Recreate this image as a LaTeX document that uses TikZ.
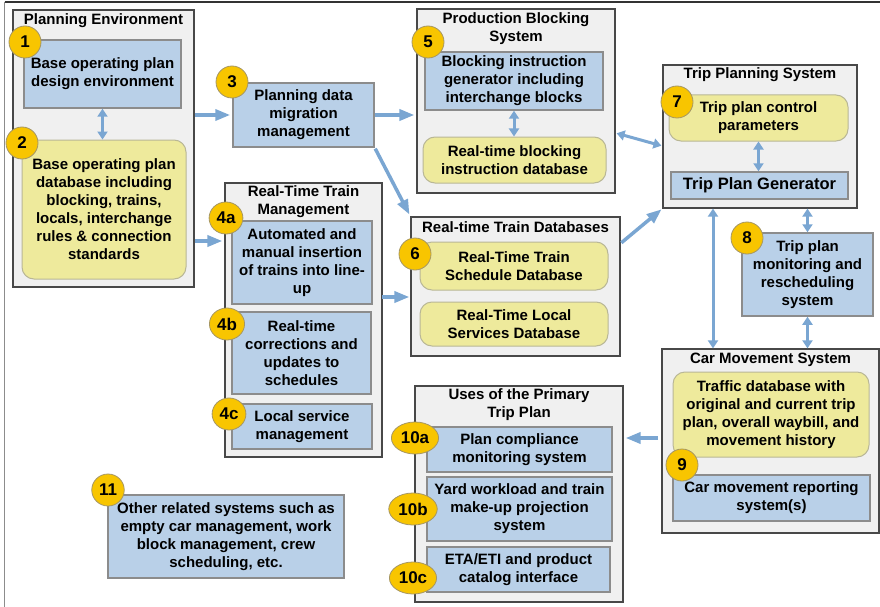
\documentclass[tikz,border=0pt]{standalone}
\usepackage{fontspec}
\setmainfont{Liberation Sans}
\usetikzlibrary{arrows.meta,shapes.geometric}

\definecolor{arrowblue}{RGB}{122,166,210}
\definecolor{panelfill}{RGB}{240,240,240}
\definecolor{paneldraw}{RGB}{72,72,72}
\definecolor{bluefill}{RGB}{185,208,232}
\definecolor{bluedraw}{RGB}{140,140,140}
\definecolor{yellowfill}{RGB}{238,234,156}
\definecolor{yellowdraw}{RGB}{185,183,150}
\definecolor{badgefill}{RGB}{248,197,0}
\definecolor{badgedraw}{RGB}{165,150,100}

\tikzset{
  txt/.style={font=\bfseries\fontsize{15}{18}\selectfont, align=center, inner sep=0pt},
  panel/.style={draw=paneldraw, fill=panelfill, line width=1.2pt, inner sep=0pt},
  paneltitle/.style={txt},
  bluebox/.style={txt, draw=bluedraw, fill=bluefill, line width=1.5pt},
  yellowbox/.style={txt, draw=yellowdraw, fill=yellowfill, line width=1pt, rounded corners=12pt},
  badge/.style={ellipse, draw=badgedraw, fill=badgefill, line width=0.8pt,
    minimum width=32pt, minimum height=32pt, inner xsep=2.5pt, inner ysep=1pt,
    font=\bfseries\fontsize{17}{17}\selectfont},
  arr/.style={draw=arrowblue, line width=3.5pt, -{Triangle[length=15pt,width=11pt]}},
  darr/.style={draw=arrowblue, line width=3pt,
    {Triangle[length=8pt,width=10pt]}-{Triangle[length=8pt,width=10pt]}},
}

\begin{document}
\begin{tikzpicture}[x=1pt,y=-1pt]
\useasboundingbox (0,0) rectangle (880,607);

% page frame
\draw[line width=1.5pt, draw=black!45] (4.5,2) -- (4.5,607);
\draw[line width=1.2pt, draw=black!80] (4.5,2) -- (880,2);

% ---------- Planning Environment ----------
\node[panel, minimum width=181pt, minimum height=277pt] (pe) at (103.5,148.5) {};
\node[paneltitle] (pe-title) at (103.5,21) {Planning Environment};
\node[bluebox, minimum width=157pt, minimum height=68pt] (b1) at (102.5,74)
  {Base operating plan\\design environment};
\node[yellowbox, minimum width=164pt, minimum height=139pt] (b2) at (104,209.5)
  {Base operating plan\\database including\\blocking, trains,\\locals, interchange\\rules \& connection\\standards};

% ---------- Planning data migration ----------
\node[bluebox, minimum width=141pt, minimum height=64pt] (b3) at (303.5,115)
  {Planning data\\migration\\management};

% ---------- Production Blocking System ----------
\node[panel, minimum width=198pt, minimum height=184pt] (pbs) at (516,101) {};
\node[paneltitle] (pbs-title) at (516,29) {Production Blocking\\System};
\node[bluebox, minimum width=178pt, minimum height=58pt] (b5) at (514,81)
  {Blocking instruction\\generator including\\interchange blocks};
\node[yellowbox, minimum width=183pt, minimum height=46pt] (y5) at (514.5,160)
  {Real-time blocking\\instruction database};

% ---------- Trip Planning System ----------
\node[panel, minimum width=194pt, minimum height=143pt] (tps) at (760,136.5) {};
\node[paneltitle] (tps-title) at (760,75) {Trip Planning System};
\node[yellowbox, minimum width=179pt, minimum height=46pt] (b7) at (758.5,118)
  {Trip plan control\\parameters};
\node[bluebox, minimum width=177pt, minimum height=27pt,
      font=\bfseries\fontsize{16.5}{18}\selectfont] (tpg) at (759.5,185.5)
  {Trip Plan Generator};

% ---------- Trip plan monitoring ----------
\node[bluebox, minimum width=131pt, minimum height=83pt] (b8) at (807.5,274.5)
  {Trip plan\\monitoring and\\rescheduling\\system};

% ---------- Car Movement System ----------
\node[panel, minimum width=217pt, minimum height=184pt] (cms) at (770.5,441) {};
\node[paneltitle] (cms-title) at (770.5,360) {Car Movement System};
\node[yellowbox, minimum width=196pt, minimum height=85pt] (y9) at (771,414.5)
  {Traffic database with\\original and current trip\\plan, overall waybill, and\\movement history};
\node[bluebox, minimum width=197pt, minimum height=46pt] (b9) at (771.5,498)
  {Car movement reporting\\system(s)};

% ---------- Uses of the Primary Trip Plan ----------
\node[panel, minimum width=208pt, minimum height=216pt] (uses) at (519,494) {};
\node[paneltitle] (uses-title) at (519,404.5) {Uses of the Primary\\Trip Plan};
\node[bluebox, minimum width=185pt, minimum height=45pt] (b10a) at (519.5,449.5)
  {Plan compliance\\monitoring system};
\node[bluebox, minimum width=185pt, minimum height=64pt] (b10b) at (519.5,509)
  {Yard workload and train\\make-up projection\\system};
\node[bluebox, minimum width=183pt, minimum height=45pt] (b10c) at (518.5,569.5)
  {ETA/ETI and product\\catalog interface};

% ---------- Real-Time Train Management ----------
\node[panel, minimum width=157pt, minimum height=274pt] (rttm) at (303.5,320) {};
\node[paneltitle] (rttm-title) at (303.5,202) {Real-Time Train\\Management};
\node[bluebox, minimum width=140pt, minimum height=83pt] (b4a) at (302,262.5)
  {Automated and\\manual insertion\\of trains into line-\\up};
\node[bluebox, minimum width=139pt, minimum height=82pt] (b4b) at (301.5,353)
  {Real-time\\corrections and\\updates to\\schedules};
\node[bluebox, minimum width=140pt, minimum height=45pt] (b4c) at (302,426.5)
  {Local service\\management};

% ---------- Real-time Train Databases ----------
\node[panel, minimum width=209pt, minimum height=139pt] (rtd) at (515.5,286.5) {};
\node[paneltitle] (rtd-title) at (515.5,227) {Real-time Train Databases};
\node[yellowbox, minimum width=188pt, minimum height=48pt] (y6a) at (514,266)
  {Real-Time Train\\Schedule Database};
\node[yellowbox, minimum width=188pt, minimum height=44pt] (y6b) at (514,324)
  {Real-Time Local\\Services Database};

% ---------- Other related systems ----------
\node[bluebox, minimum width=236pt, minimum height=83pt] (b11) at (226,536.5)
  {Other related systems such as\\empty car management, work\\block management, crew\\scheduling, etc.};

% ---------- connectors ----------
\coordinate (pe-out) at (195,241);
\coordinate (rttm-out) at (382,297);
\coordinate (cms-out) at (662,438);

\draw[darr] (b1.south) -- (b1.south |- b2.north);
\draw[arr, shorten >=2pt] (pe.east |- b3.west) -- (b3.west);
\draw[arr, shorten >=2pt] (b3.east) -- (pbs.west |- b3.east);
\draw[arr, shorten <=1pt, shorten >=2pt] (b3.south east) -- (rtd.north west);
\draw[arr, shorten >=2pt] (pe-out) -- (rttm.west |- pe-out);
\draw[arr, shorten >=1pt] (rttm-out) -- (rtd.west |- rttm-out);
\draw[darr] (b5.south) -- (b5.south |- y5.north);
\draw[darr, shorten <=1pt, shorten >=1pt] ([yshift=-32pt]pbs.east) -- ([yshift=-9.5pt]tps.west);
\draw[arr, shorten <=1pt, shorten >=1pt] ([yshift=-27pt]rtd.north east) -- (tps.south west);
\draw[darr] (b7.south) -- (b7.south |- tpg.north);
\draw[darr] (b8.north |- tps.south) -- (b8.north);
\draw[darr] (b8.south) -- (b8.south |- cms.north);
\draw[darr] ([xshift=-47pt]tps.south) -- ([xshift=-47pt]tps.south |- cms.north);
\draw[arr, shorten <=4pt, shorten >=2pt] (cms-out) -- (uses.east |- cms-out);

% ---------- number badges ----------
\node[badge] (n1) at (25,42) {1};
\node[badge] (n2) at (22,143) {2};
\node[badge] (n3) at (232,82) {3};
\node[badge] (n4a) at (226,218) {4a};
\node[badge] (n4b) at (227,324) {4b};
\node[badge] (n4c) at (229,414) {4c};
\node[badge] (n5) at (428,42) {5};
\node[badge] (n6) at (415,254) {6};
\node[badge] (n7) at (677,102) {7};
\node[badge] (n8) at (747,238) {8};
\node[badge] (n9) at (682,465) {9};
\node[badge] (n10a) at (415,438) {10a};
\node[badge] (n10b) at (413,509) {10b};
\node[badge] (n10c) at (413,578) {10c};
\node[badge] (n11) at (108,490) {11};
\end{tikzpicture}
\end{document}
